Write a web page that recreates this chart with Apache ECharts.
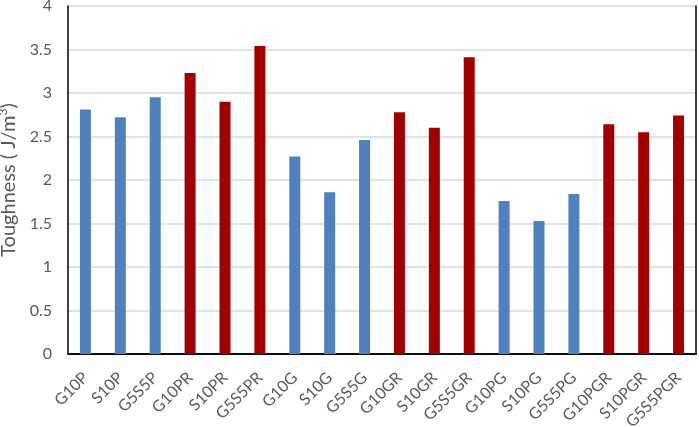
<!DOCTYPE html>
<html>
<head>
<meta charset="utf-8">
<script src="https://cdn.jsdelivr.net/npm/echarts@6/dist/echarts.min.js"></script>
<style>html,body{margin:0;padding:0;background:#fff;}#c{width:699px;height:427px;}</style>
</head>
<body>
<div id="c"></div>
<script>
var categories = ["G10P","S10P","G5S5P","G10PR","S10PR","G5S5PR","G10G","S10G","G5S5G","G10GR","S10GR","G5S5GR","G10PG","S10PG","G5S5PG","G10PGR","S10PGR","G5S5PGR"];
var values = [2.81,2.72,2.95,3.23,2.90,3.54,2.27,1.86,2.46,2.78,2.60,3.41,1.76,1.53,1.84,2.64,2.55,2.74];
var isRed = [0,0,0,1,1,1,0,0,0,1,1,1,0,0,0,1,1,1];
var yTicks = [0,0.5,1,1.5,2,2.5,3,3.5,4];
var BLUE = '#4F81BD', RED = '#A00000';
var FONT = 'Lato';
var chart = echarts.init(document.getElementById('c'));
var frameLine = {show:true,lineStyle:{color:'#000',width:1.5}};
chart.setOption({
  animation:false,
  grid:{left:68,right:3,top:6,bottom:73,containLabel:false,outerBoundsMode:'none'},
  xAxis:[{type:'category',data:categories,
    axisLine:frameLine,axisTick:{show:false},
    axisLabel:{rotate:45,color:'#595959',fontSize:16,fontFamily:FONT,margin:21,interval:0}},
    {type:'category',position:'top',data:categories,axisLine:frameLine,axisTick:{show:false},axisLabel:{show:false}}],
  yAxis:[{type:'value',min:0,max:4,interval:0.5,
    axisLine:frameLine,axisTick:{show:false},
    splitLine:{lineStyle:{color:'#D9D9D9',width:1.5}},
    axisLabel:{color:'#595959',fontSize:16,fontFamily:FONT,margin:16,
      formatter:function(v){return String(v);}},
    name:'Toughness ( J/m{s|3})',nameLocation:'middle',nameGap:48,nameRotate:90,
    nameTextStyle:{color:'#595959',fontSize:20,fontFamily:FONT,
      rich:{s:{fontSize:12,verticalAlign:'top',padding:[0,0,11,0],color:'#595959',fontFamily:FONT}}}},
    {type:'value',position:'right',min:0,max:4,interval:0.5,axisLine:frameLine,axisTick:{show:false},axisLabel:{show:false},splitLine:{show:false}}],
  series:[{type:'bar',barWidth:11,xAxisIndex:0,yAxisIndex:0,
    data:values.map(function(v,i){return {value:v,itemStyle:{color:isRed[i]?RED:BLUE}};})}]
});
</script>
</body>
</html>
